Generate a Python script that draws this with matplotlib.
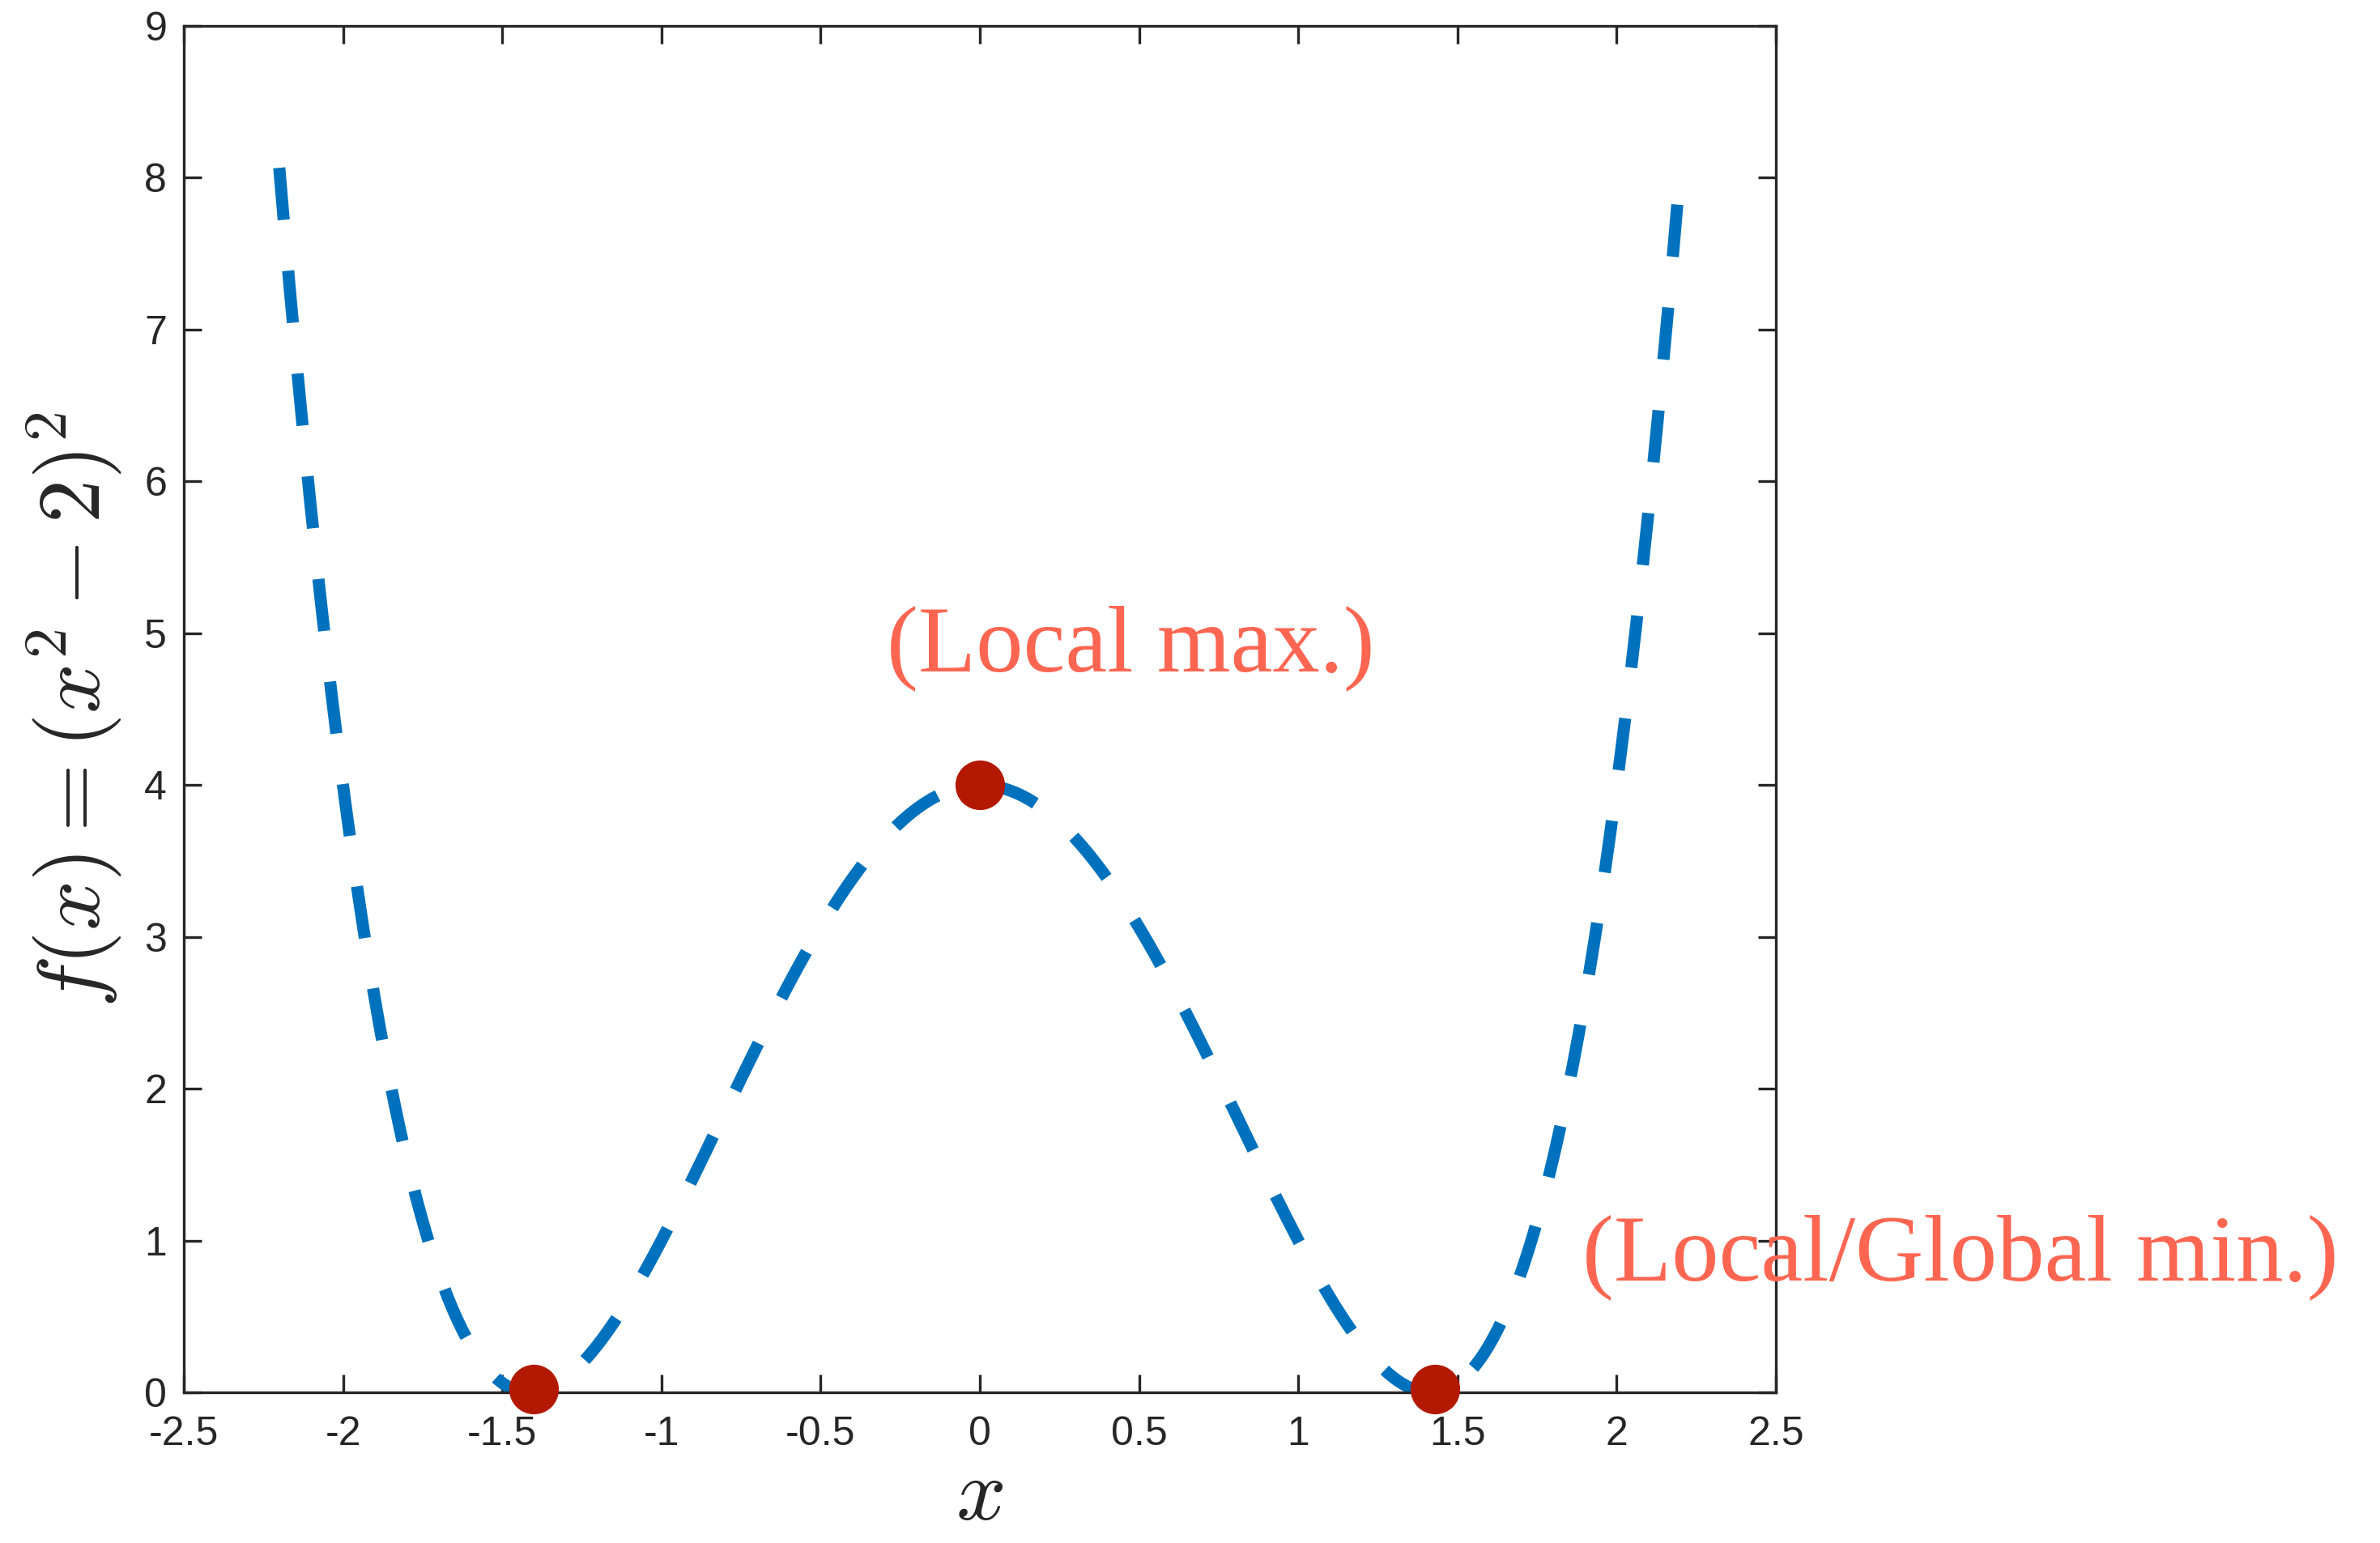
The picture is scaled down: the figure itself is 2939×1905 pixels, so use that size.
"""
f(x) = (x^2 - 2)^2 with its stationary points
"""

import numpy as np
import matplotlib
matplotlib.use('Agg')
import matplotlib.pyplot as plt

plt.rcParams['font.family'] = ['Liberation Sans', 'DejaVu Sans']
plt.rcParams['mathtext.fontset'] = 'cm'

# curve range and stationary points
x_start, x_end = -2.2, 2.2
crit_x = [-1.40, 0.0, 1.43]
crit_y = [0.02, 4.0, 0.02]

x_ticks = [-2.5, -2, -1.5, -1, -0.5, 0, 0.5, 1, 1.5, 2, 2.5]
x_tick_labels = ['-2.5', '-2', '-1.5', '-1', '-0.5', '0', '0.5', '1', '1.5', '2', '2.5']
y_ticks = [0, 1, 2, 3, 4, 5, 6, 7, 8, 9]

notes = ['(Local max.)', '(Local/Global min.)']
note_pos = [(0.475, 4.9), (3.08, 0.89)]

x = np.linspace(x_start, x_end, 800)
f = (x**2 - 2)**2

fig = plt.figure(figsize=(2939 / 300, 1905 / 300), dpi=300)
ax = fig.add_axes([0.0772, 0.0976, 0.669, 0.8856])

ax.plot(x, f, color='#0072BD', linewidth=3.6, linestyle=(0, (4.3, 4.2)),
        dash_capstyle='butt')
ax.plot(crit_x, crit_y, 'o', color='#B31900', markersize=14.7,
        markeredgewidth=0, clip_on=False, zorder=5)

for txt, (tx, ty) in zip(notes, note_pos):
    ax.text(tx, ty, txt, color='#FF6652', fontsize=28, ha='center', va='center',
            family=['Liberation Serif', 'DejaVu Serif'], clip_on=False)

ax.set_xlim(-2.5, 2.5)
ax.set_ylim(0, 9)
ax.set_xticks(x_ticks)
ax.set_xticklabels(x_tick_labels)
ax.set_yticks(y_ticks)
ax.set_yticklabels([str(v) for v in y_ticks])

ax.tick_params(direction='in', length=5.2, width=0.8, colors='#262626',
               labelsize=12, top=True, right=True)
ax.tick_params(axis='x', pad=7)
ax.tick_params(axis='y', pad=5)
for s in ax.spines.values():
    s.set_linewidth(0.8)
    s.set_color('#262626')

ax.set_xlabel('$x$', fontsize=26, color='#262626', labelpad=1)
ax.set_ylabel('$f(x) = (x^2 - 2)^2$', fontsize=26, color='#262626', labelpad=6)

fig.savefig('out.png', dpi=300)
